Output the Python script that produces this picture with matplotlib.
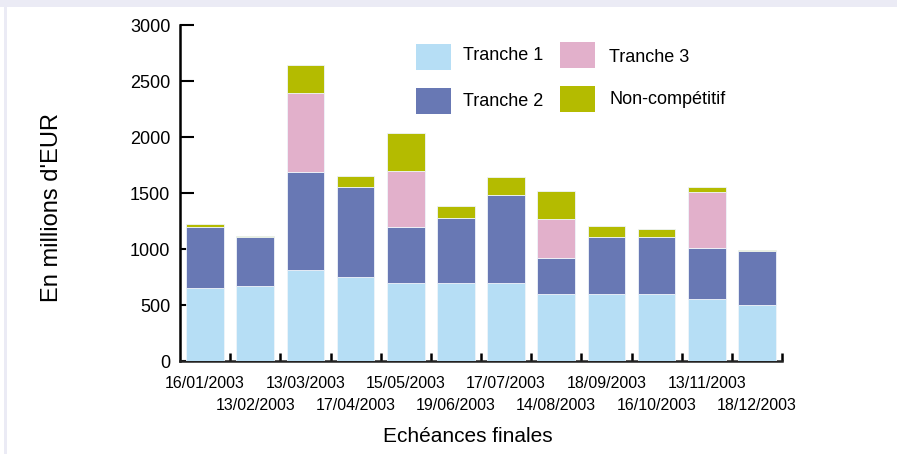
import matplotlib
matplotlib.use("Agg")
import matplotlib.pyplot as plt
from matplotlib.patches import Rectangle
import numpy as np

plt.rcParams['font.family'] = ['Liberation Sans', 'DejaVu Sans']

dates = ["16/01/2003", "13/02/2003", "13/03/2003", "17/04/2003", "15/05/2003",
         "19/06/2003", "17/07/2003", "14/08/2003", "18/09/2003", "16/10/2003",
         "13/11/2003", "18/12/2003"]
tranche1 = [650, 670, 810, 750, 700, 700, 700, 600, 600, 600, 550, 500]
tranche2 = [550, 440, 880, 800, 500, 580, 780, 320, 505, 505, 460, 480]
tranche3 = [0, 0, 700, 0, 500, 0, 0, 350, 0, 0, 500, 0]
noncomp = [25, 5, 250, 100, 340, 100, 165, 250, 100, 75, 40, 10]

series = [("Tranche 1", tranche1, "#b6def5"),
          ("Tranche 2", tranche2, "#6878b4"),
          ("Tranche 3", tranche3, "#e2b0cb"),
          ("Non-compétitif", noncomp, "#b4bb00")]

W, H = 897, 454
fig = plt.figure(figsize=(W / 100, H / 100), dpi=100)
fig.patch.set_facecolor("white")
# lavender frame strips
fig.add_artist(Rectangle((0, 1 - 7 / H), 1, 7 / H, transform=fig.transFigure,
                         facecolor="#ebebf5", edgecolor="none", zorder=0))
fig.add_artist(Rectangle((4 / W, 0), 3 / W, 1, transform=fig.transFigure,
                         facecolor="#ebebf5", edgecolor="none", zorder=0))

ax = fig.add_axes([180 / W, (H - 361) / H, (782 - 180) / W, (361 - 25) / H])
ax.set_facecolor("none")

x = np.arange(len(dates))
bottom = np.zeros(len(dates))
for name, vals, col in series:
    v = np.array(vals, dtype=float)
    ax.bar(x, v, 0.75, bottom=bottom, color=col, edgecolor="#eef4fa",
           linewidth=0.6, zorder=3, label=name)
    bottom += v

ax.set_xlim(-0.5, len(dates) - 0.5)
ax.set_ylim(0, 3000)
ax.set_yticks(np.arange(0, 3001, 500))
ax.tick_params(axis="y", direction="in", length=10, width=1.5, pad=7,
               labelsize=13, colors="black")
for s in ["top", "right"]:
    ax.spines[s].set_visible(False)
ax.spines["left"].set_linewidth(1.8)
ax.spines["bottom"].set_linewidth(1.8)
ax.spines["bottom"].set_color("#222222")

ax.set_xticks(x)
ax.set_xticklabels(dates)
ax.set_xticks(np.arange(0.5, len(dates), 1.0), minor=True)
ax.tick_params(axis="x", which="major", length=0, labelsize=11.5)
ax.tick_params(axis="x", which="minor", direction="in", length=5.5, width=1.8,
               colors="black")
for i, t in enumerate(ax.xaxis.get_major_ticks()):
    t.set_pad(10.5 if i % 2 == 0 else 26.5)

fig.text(52 / W, 1 - 208 / H, "En millions d'EUR", rotation=90, fontsize=17,
         ha="center", va="center")
fig.text(468 / W, 1 - 437 / H, "Echéances finales", fontsize=15,
         ha="center", va="center")

# legend (manual 2x2)
leg = [("Tranche 1", "#b6def5", 416, 44, 463, 56),
       ("Tranche 2", "#6878b4", 416, 88, 463, 101),
       ("Tranche 3", "#e2b0cb", 560, 42, 609, 57),
       ("Non-compétitif", "#b4bb00", 560, 86, 609, 99)]
for name, col, px, py, tx, ty in leg:
    fig.add_artist(Rectangle((px / W, 1 - (py + 26) / H), 35 / W, 26 / H,
                             transform=fig.transFigure, facecolor=col,
                             edgecolor="none"))
    fig.text(tx / W, 1 - ty / H, name, fontsize=13, ha="left", va="center")

fig.savefig("out.png", dpi=100, facecolor=fig.get_facecolor())
